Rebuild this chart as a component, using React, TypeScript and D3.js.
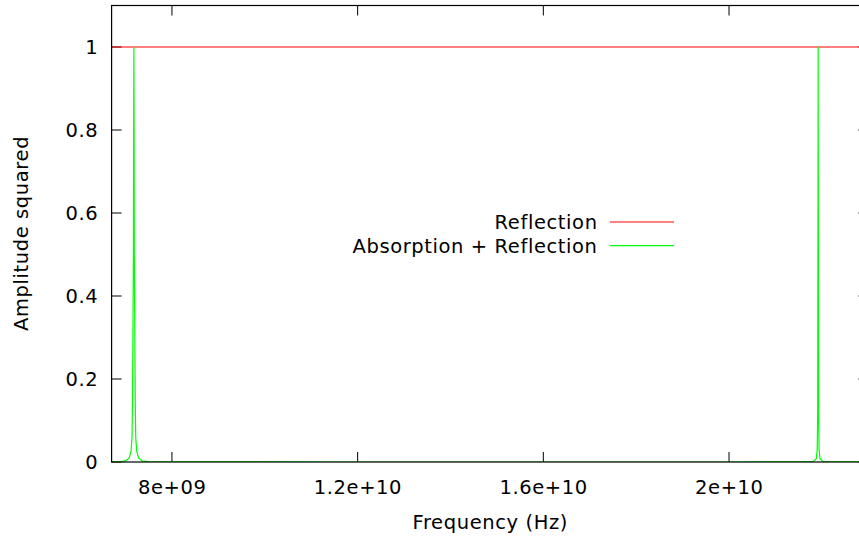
import React from 'react';
import * as d3 from 'd3';

// x ticks (Hz) and y ticks
const xTicks = [8e9, 1.2e10, 1.6e10, 2e10];
const xTickLabels = ['8e+09', '1.2e+10', '1.6e+10', '2e+10'];
const yTicks = [0, 0.2, 0.4, 0.6, 0.8, 1];
const yTickLabels = ['0', '0.2', '0.4', '0.6', '0.8', '1'];

// Reflection only: flat at 1 across the band
const reflectionFreq = [6.7e9, 2.3e10];
const reflectionAmp = [1, 1];

// Absorption + Reflection: two narrow resonances
const absorptionFreq = [
  6.7e9, 6.9e9, 7.0e9, 7.08e9, 7.12e9, 7.14e9, 7.15e9, 7.16e9, 7.17e9, 7.175e9,
  7.18e9,
  7.185e9, 7.19e9, 7.2e9, 7.21e9, 7.22e9, 7.24e9, 7.28e9, 7.36e9, 7.5e9, 8e9,
  1.2e10, 1.6e10, 2e10, 2.15e10, 2.182e10, 2.188e10, 2.19e10, 2.191e10, 2.1915e10,
  2.192e10,
  2.1925e10, 2.193e10, 2.194e10, 2.196e10, 2.202e10, 2.22e10, 2.3e10,
];
const absorptionAmp = [
  0.0005, 0.001, 0.0025, 0.01, 0.027, 0.06, 0.14, 0.31, 0.5, 0.8,
  1,
  0.8, 0.5, 0.31, 0.14, 0.06, 0.027, 0.01, 0.0025, 0.001, 0.0002,
  0, 0, 0, 0.0003, 0.0013, 0.008, 0.03, 0.12, 0.5,
  1,
  0.5, 0.12, 0.03, 0.008, 0.0013, 0.0003, 0,
];

const legendLabels = ['Reflection', 'Absorption + Reflection'];
const colors = ['#ff0000', '#00ff00'];

const W = 859;
const H = 537;
const left = 111.6;
const right = 868.3;
const top = 5.5;
const bottom = 462;
const font = 'DejaVu Sans, sans-serif';
const fs = 19.5;
const ls = 0.6; // gnuplot's text comes out a bit wider than the browser's

export default function App() {
  const x = d3.scaleLinear().domain([6.7e9, 2.3e10]).range([left, right]);
  const y = d3.scaleLinear().domain([0, 1.1]).range([bottom, top]);

  const line = d3
    .line<[number, number]>()
    .x(d => x(d[0]))
    .y(d => y(d[1]));

  const redPts = reflectionFreq.map((f, i) => [f, reflectionAmp[i]] as [number, number]);
  const greenPts = absorptionFreq.map((f, i) => [f, absorptionAmp[i]] as [number, number]);
  const series = [redPts, greenPts];

  const tick = 10;

  return (
    <svg
      width={W}
      height={H}
      style={{ position: 'absolute', left: 0, top: 0, background: '#fff' }}
      fontFamily={font}
      letterSpacing={ls}
    >
      <defs>
        <clipPath id="plot">
          <rect x={left} y={top} width={right - left} height={bottom - top} />
        </clipPath>
      </defs>

      {/* ticks, mirrored on all sides */}
      <g stroke="#000" strokeWidth={1}>
        {xTicks.map(t => (
          <g key={'x' + t}>
            <line x1={x(t)} x2={x(t)} y1={bottom} y2={bottom - tick} />
            <line x1={x(t)} x2={x(t)} y1={top} y2={top + tick} />
          </g>
        ))}
        {yTicks.map(t => (
          <g key={'y' + t}>
            <line x1={left} x2={left + tick} y1={y(t)} y2={y(t)} />
            <line x1={right} x2={right - tick} y1={y(t)} y2={y(t)} />
          </g>
        ))}
      </g>

      {/* tick labels */}
      <g fontSize={fs} fill="#000">
        {xTicks.map((t, i) => (
          <text key={t} x={x(t) + ls / 2} y={bottom + 31.5} textAnchor="middle">
            {xTickLabels[i]}
          </text>
        ))}
        {yTicks.map((t, i) => (
          <text key={t} x={left - 14 + ls} y={y(t) + 7} textAnchor="end">
            {yTickLabels[i]}
          </text>
        ))}
      </g>

      {/* axis titles */}
      <text x={(left + right) / 2 + ls / 2} y={528.5} fontSize={fs} textAnchor="middle">
        Frequency (Hz)
      </text>
      <text
        transform={`translate(27.5,${(top + bottom) / 2 - ls / 2}) rotate(-90)`}
        fontSize={fs}
        textAnchor="middle"
      >
        Amplitude squared
      </text>

      {/* data */}
      <g clipPath="url(#plot)" fill="none" strokeWidth={1.2}>
        {series.map((pts, i) => (
          <path key={i} d={line(pts) ?? ''} stroke={colors[i]} />
        ))}
      </g>

      {/* legend */}
      <g fontSize={fs}>
        {legendLabels.map((lab, i) => (
          <g key={lab}>
            <text x={597 + ls} y={222 + i * 23.7 + 7} textAnchor="end">
              {lab}
            </text>
            <line
              x1={610}
              x2={674}
              y1={222 + i * 23.7}
              y2={222 + i * 23.7}
              stroke={colors[i]}
              strokeWidth={1.2}
            />
          </g>
        ))}
      </g>

      {/* border */}
      <rect
        x={left}
        y={top}
        width={right - left}
        height={bottom - top}
        fill="none"
        stroke="#000"
        strokeWidth={1.2}
      />
    </svg>
  );
}
